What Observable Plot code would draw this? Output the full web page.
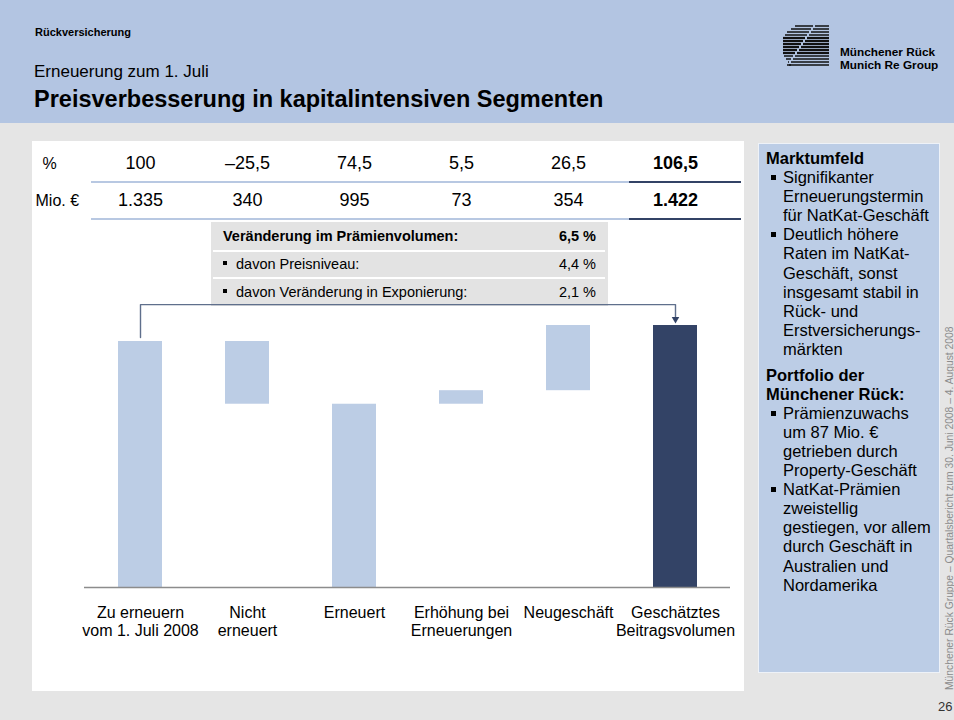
<!DOCTYPE html>
<html><head><meta charset="utf-8">
<script src="https://cdn.jsdelivr.net/npm/d3@7"></script>
<script src="https://cdn.jsdelivr.net/npm/@observablehq/plot@0.6"></script>
<style>
html,body{margin:0;padding:0}
body{width:954px;height:720px;background:#e5e5e5;font-family:"Liberation Sans",Arial,Helvetica,sans-serif;position:relative;overflow:hidden;color:#000}
.abs{position:absolute;white-space:nowrap}
#header{left:0;top:0;width:954px;height:123px;background:#b3c5e2}
#white{left:32px;top:141px;width:712px;height:550px;background:#fff;z-index:1}
#info{left:211px;top:222px;width:397px;height:84px;background:#e3e3e3;z-index:2;font-size:14.5px}
#info .row{position:absolute;left:0;width:397px;height:27px;line-height:27px}
#info .lab{position:absolute;left:12px}
#info .val{position:absolute;right:12px}
#info .sep{position:absolute;left:2px;width:392px;height:2px;background:#fff}
.sq{display:inline-block;width:4px;height:4px;background:#000;vertical-align:middle;margin-right:9px;position:relative;top:-2px}
.rule{height:2px;z-index:2}
#chart{left:32px;top:141px;z-index:3}
#panel{left:758px;top:143px;width:182px;height:530px;background:#bccde6;border:1px solid #eef2f8;box-sizing:border-box;z-index:1;font-size:16.5px;line-height:19.1px;padding:5px 0 0 7px}
#panel .h{font-weight:bold}
#panel .it{position:relative;padding-left:17px}
#panel .it .b{position:absolute;left:5px;top:7px;width:5px;height:5px;background:#000}
</style></head><body>
<div id="header" class="abs"></div>
<div class="abs" style="left:35px;top:25px;font-size:11px;font-weight:bold;line-height:14px">Rückversicherung</div>
<div class="abs" style="left:34px;top:62px;font-size:17px;line-height:20px">Erneuerung zum 1. Juli</div>
<div class="abs" style="left:34px;top:85px;font-size:23.5px;line-height:28px;font-weight:bold">Preisverbesserung in kapitalintensiven Segmenten</div>
<svg class="abs" id="logo" style="left:783px;top:24px" width="48" height="44"></svg>
<div class="abs" style="left:840px;top:46px;font-size:11.8px;font-weight:bold;line-height:13px">Münchener Rück<br>Munich Re Group</div>

<div id="white" class="abs"></div>
<div id="info" class="abs"></div>
<div class="abs rule" style="left:91px;top:181px;width:538px;background:#b8c8e2"></div>
<div class="abs rule" style="left:629px;top:181px;width:112px;background:#334366"></div>
<div class="abs rule" style="left:91px;top:218px;width:538px;background:#b8c8e2"></div>
<div class="abs rule" style="left:629px;top:218px;width:112px;background:#334366"></div>
<div id="chart" class="abs"></div>

<div id="panel" class="abs"></div>
<div class="abs" style="left:944px;top:690px;font-size:10.3px;line-height:12px;color:#8c8c8c;transform-origin:0 0;transform:rotate(-90deg)">Münchener Rück Gruppe – Quartalsbericht zum 30. Juni 2008 – 4. August 2008</div>
<div class="abs" style="left:938px;top:699px;font-size:13px;line-height:16px;color:#333">26</div>

<script>
// ---- data ----
const categories = ["Zu erneuern\nvom 1. Juli 2008", "Nicht\nerneuert", "Erneuert", "Erhöhung bei\nErneuerungen", "Neugeschäft", "Geschätztes\nBeitragsvolumen"];
const pctValues = [100, -25.5, 74.5, 5.5, 26.5, 106.5];
const mioValues = [1335, 340, 995, 73, 354, 1422];
const barKinds = ["total", "delta", "total", "delta", "delta", "total"];
const rowLabels = ["%", "Mio. €"];
const infoLabels = ["Veränderung im Prämienvolumen:", "davon Preisniveau:", "davon Veränderung in Exponierung:"];
const infoValues = [6.5, 4.4, 2.1];
const panelBlocks = [
  {head: ["Marktumfeld"], items: [
    ["Signifikanter", "Erneuerungstermin", "für NatKat-Geschäft"],
    ["Deutlich höhere", "Raten im NatKat-", "Geschäft, sonst", "insgesamt stabil in", "Rück- und", "Erstversicherungs-", "märkten"]]},
  {head: ["Portfolio der", "Münchener Rück:"], items: [
    ["Prämienzuwachs", "um 87 Mio. €", "getrieben durch", "Property-Geschäft"],
    ["NatKat-Prämien", "zweistellig", "gestiegen, vor allem", "durch Geschäft in", "Australien und", "Nordamerika"]]}
];

const LIGHT = "#bccde5", DARK = "#334366";
const fmtPct = v => (v < 0 ? "–" : "") + String(Math.abs(v)).replace(".", ",");
const fmtMio = v => d3.format(",")(v).replace(/,/g, ".");
const fmtInfo = v => v.toFixed(1).replace(".", ",") + " %";

// waterfall
let running = 0;
const bars = categories.map((cat, i) => {
  const v = pctValues[i];
  let y1, y2;
  if (barKinds[i] === "total") { y1 = 0; y2 = v; } else { y1 = running; y2 = running + v; }
  running = y2;
  return {cat, y1, y2, last: i === categories.length - 1};
});
const table = categories.map((cat, i) => ({cat, pct: fmtPct(pctValues[i]), mio: fmtMio(mioValues[i]), last: i === categories.length - 1}));
const last = categories.length - 1;
const connTop = pctValues[last] + 8.5;
const conn = [
  {cat: categories[0], v: pctValues[0] + 1.6},
  {cat: categories[0], v: connTop},
  {cat: categories[last], v: connTop},
  {cat: categories[last], v: pctValues[last] + 2.6}
];

const font = '"Liberation Sans",Arial,Helvetica,sans-serif';
const T = {frameAnchor: "top", lineAnchor: "middle", fontSize: 18};
const chart = Plot.plot({
  width: 712, height: 550,
  marginLeft: 52, marginRight: 14, marginTop: 0, marginBottom: 104,
  style: {fontFamily: font, fontSize: "16px", background: "transparent", color: "#000", overflow: "visible"},
  x: {domain: categories, paddingInner: 0.59, paddingOuter: 0.295, label: null},
  y: {domain: [0, 100], range: [446, 200], axis: null},
  marks: [
    Plot.barY(bars.filter(d => !d.last), {x: "cat", y1: "y1", y2: "y2", fill: LIGHT}),
    Plot.barY(bars.filter(d => d.last), {x: "cat", y1: "y1", y2: "y2", fill: DARK}),
    Plot.ruleY([0], {stroke: "#8c8c8c", strokeWidth: 1.5}),
    Plot.line(conn, {x: "cat", y: "v", stroke: "#5f6f8c", strokeWidth: 1.4}),
    Plot.dot([conn[3]], {x: "cat", y: "v", symbol: "triangle", r: 2.8, rotate: 180, fill: DARK, stroke: "none"}),
    Plot.axisX({tickSize: 0, tickPadding: 17, fontSize: 16, lineHeight: 1.15, fill: "#000", label: null}),
    Plot.text(table.filter(d => !d.last), {...T, x: "cat", text: "pct", dy: 22}),
    Plot.text(table.filter(d => d.last), {...T, x: "cat", text: "pct", dy: 22, fontWeight: "bold"}),
    Plot.text(table.filter(d => !d.last), {...T, x: "cat", text: "mio", dy: 59}),
    Plot.text(table.filter(d => d.last), {...T, x: "cat", text: "mio", dy: 59, fontWeight: "bold"}),
    Plot.text([rowLabels[0]], {text: d => d, frameAnchor: "top-left", lineAnchor: "middle", textAnchor: "start", dx: -42, dy: 22, fontSize: 16}),
    Plot.text([rowLabels[1]], {text: d => d, frameAnchor: "top-left", lineAnchor: "middle", textAnchor: "start", dx: -49, dy: 59, fontSize: 16})
  ]
});
document.getElementById("chart").appendChild(chart);

// info box
const info = document.getElementById("info");
infoLabels.forEach((lab, i) => {
  const row = document.createElement("div");
  row.className = "row";
  row.style.top = (i * 28 + 1) + "px";
  row.innerHTML = i === 0
    ? `<span class="lab" style="font-weight:bold">${lab}</span><span class="val" style="font-weight:bold">${fmtInfo(infoValues[i])}</span>`
    : `<span class="lab"><span class="sq"></span>${lab}</span><span class="val">${fmtInfo(infoValues[i])}</span>`;
  info.appendChild(row);
  if (i > 0) {
    const s = document.createElement("div");
    s.className = "sep";
    s.style.top = (i * 27.5) + "px";
    info.appendChild(s);
  }
});

// right panel
const panel = document.getElementById("panel");
panelBlocks.forEach((b, bi) => {
  const h = document.createElement("div");
  h.className = "h";
  if (bi > 0) h.style.marginTop = "6.6px";
  h.innerHTML = b.head.join("<br>");
  panel.appendChild(h);
  b.items.forEach(lines => {
    const it = document.createElement("div");
    it.className = "it";
    it.innerHTML = `<span class="b"></span>` + lines.join("<br>");
    panel.appendChild(it);
  });
});

// logo (decorative)
const logo = d3.select("#logo");
const starts = [12, 8, 4, 2, 0, 0, 0, 0, 0, 0, 1, 3, 5, 8];
const gaps = [30, 28, 26, 24, 22, 20, 18, 16, 14, 12, 10, 8, 6, 4];
starts.forEach((s, i) => {
  const y = 2 + i * 3;
  const w = (i >= 4 && i <= 9) ? 2.2 : 1.5;
  logo.append("line").attr("x1", s).attr("x2", gaps[i]).attr("y1", y).attr("y2", y).attr("stroke", "#111").attr("stroke-width", w);
  logo.append("line").attr("x1", gaps[i] + 2).attr("x2", 46).attr("y1", y).attr("y2", y).attr("stroke", "#111").attr("stroke-width", w);
});
</script>
</body></html>
